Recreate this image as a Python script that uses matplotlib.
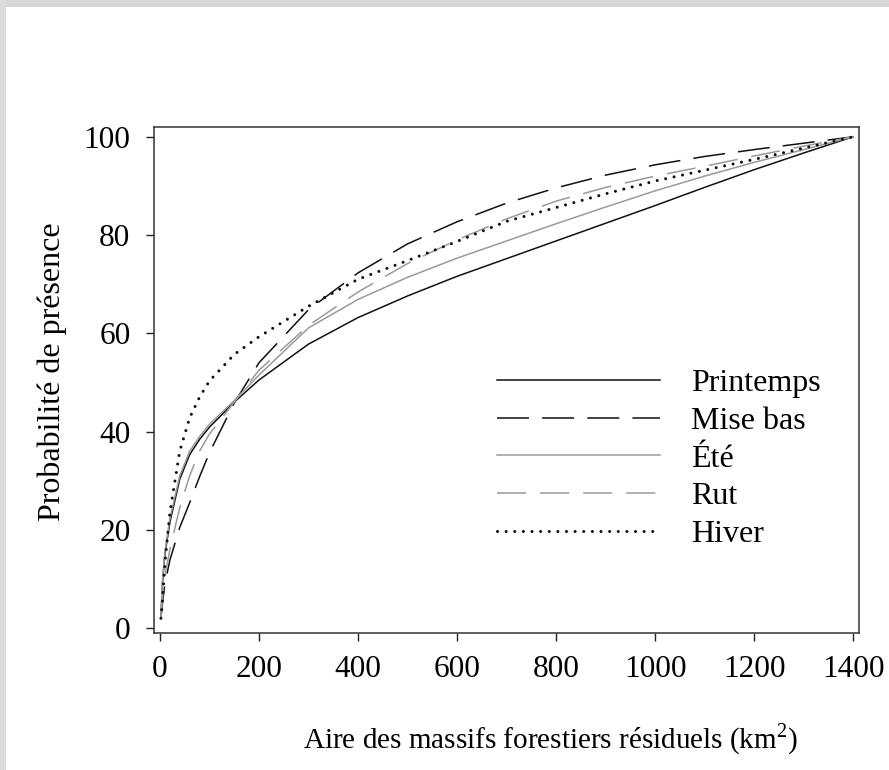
import matplotlib
matplotlib.use("Agg")
import matplotlib.pyplot as plt
from matplotlib.patches import Rectangle

plt.rcParams['font.family'] = ['Liberation Serif', 'DejaVu Serif']
plt.rcParams['mathtext.fontset'] = 'custom'
plt.rcParams['mathtext.rm'] = 'Liberation Serif'
plt.rcParams['lines.scale_dashes'] = False

# surface des massifs (km2)
aire = [2, 5, 10, 20, 40, 60, 80, 100, 150, 200, 300, 400, 500,
        600, 700, 800, 900, 1000, 1100, 1200, 1300, 1400]

printemps = [2, 9, 15, 21.5, 30.3, 35.3, 38.4, 40.9, 46.0, 50.5, 57.8, 63.2, 67.6,
             71.6, 75.2, 78.8, 82.4, 86.0, 89.7, 93.3, 96.7, 100]
mise_bas = [2, 5, 9, 13.8, 20.5, 25.5, 30.8, 35.7, 45.8, 54.0, 64.8, 72.3, 78.2,
            82.7, 86.5, 89.6, 92.2, 94.3, 96.0, 97.4, 98.7, 100]
ete = [2, 9.5, 15.5, 22.3, 31.0, 36.0, 39.0, 41.5, 46.3, 51.5, 61.1, 66.9, 71.4,
       75.3, 78.8, 82.3, 85.7, 89.0, 92.0, 94.8, 97.4, 100]
rut = [2, 6, 10.5, 16, 24.5, 31, 36, 39.5, 46.0, 52.5, 61.6, 68.4, 74.2,
       79.0, 83.3, 86.9, 89.7, 92.0, 94.0, 96.1, 98.1, 100]
hiver = [2, 5.4, 13.2, 23.5, 36.0, 42.8, 47.0, 50.3, 55.7, 59.3, 65.5, 71.0, 74.8,
         78.7, 82.8, 85.6, 88.4, 91.0, 93.2, 95.4, 97.7, 100]

xticks = [0, 200, 400, 600, 800, 1000, 1200, 1400]
yticks = [0, 20, 40, 60, 80, 100]

fig = plt.figure(figsize=(8.89, 7.7), dpi=100)
# bord gris de la capture
fig.patches.append(Rectangle((0, 1 - 7 / 770), 1, 7 / 770, transform=fig.transFigure,
                             facecolor='#d6d6d6', edgecolor='none'))
fig.patches.append(Rectangle((0, 0), 6 / 889, 1, transform=fig.transFigure,
                             facecolor='#dcdcdc', edgecolor='none'))

ax = fig.add_axes([154 / 889, 137 / 770, 705 / 889, 506 / 770])

ax.plot(aire, printemps, color='#111111', lw=1.1, label='Printemps')
ax.plot(aire, mise_bas, color='#111111', lw=1.1, dashes=(23, 9.5), label='Mise bas')
ax.plot(aire, ete, color='#9a9a9a', lw=1.1, label='Été')
ax.plot(aire, rut, color='#9a9a9a', lw=1.1, dashes=(21, 10), label='Rut')
ax.plot(aire, hiver, color='#111111', lw=2.2, dashes=(0.01, 6.2),
        dash_capstyle='round', label='Hiver')

ax.set_xlim(-12, 1412)
ax.set_ylim(-1, 102)
ax.set_xticks(xticks)
ax.set_yticks(yticks)
ax.tick_params(direction='out', length=6, width=1, colors='#222222',
               labelsize=22.5, labelcolor='black')
ax.tick_params(axis='x', pad=10)
ax.tick_params(axis='y', pad=11)
for s in ax.spines.values():
    s.set_linewidth(1.1)
    s.set_color('#333333')

ax.set_xlabel('Aire des massifs forestiers résiduels (km$^2$)', fontsize=21,
              labelpad=27, x=0.562)
ax.set_ylabel('Probabilité de présence', fontsize=23, labelpad=12, y=0.516)

ax.legend(loc='upper left', bbox_to_anchor=(0.4865, 0.522), frameon=False, fontsize=23,
          handlelength=5.1, handletextpad=0.98, labelspacing=0.26, borderpad=0,
          borderaxespad=0)

plt.savefig('out.png', dpi=100)
